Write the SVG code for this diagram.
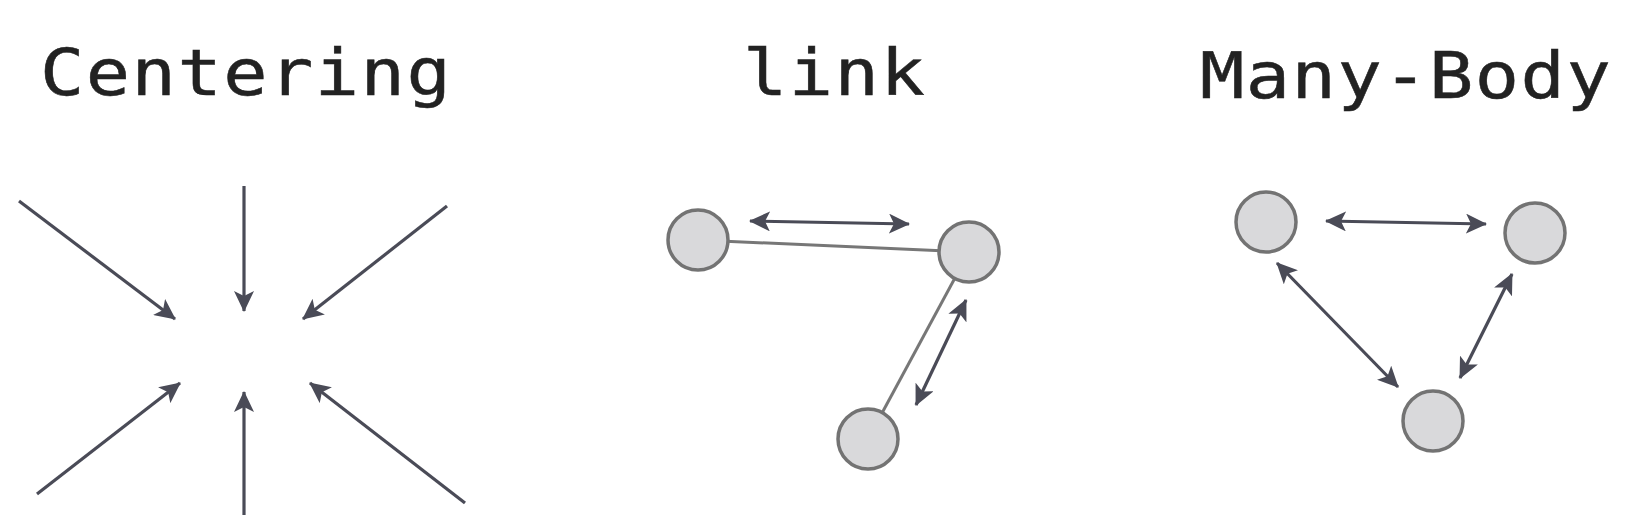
<svg xmlns="http://www.w3.org/2000/svg" width="1638" height="532" viewBox="0 0 1638 532">
<defs>
<style>
.title{font-family:"DejaVu Sans Mono","Liberation Mono",monospace;font-size:64px;fill:#222;stroke:#222;stroke-width:0.5px;letter-spacing:1.3px}
.arr{stroke:#4a4b57;stroke-width:3.2;fill:none;marker-end:url(#ah)}
.dbl{stroke:#4a4b57;stroke-width:3.2;fill:none;marker-start:url(#ahs);marker-end:url(#ah)}
.link{stroke:#777;stroke-width:3;fill:none}
.node{fill:#d9d9db;stroke:#737373;stroke-width:3.5}
</style>
<marker id="ah" markerUnits="userSpaceOnUse" markerWidth="22" markerHeight="20" refX="20" refY="10" orient="auto">
<path d="M0,0 L21,10 L0,20 L5,10 Z" fill="#4a4b57"/>
</marker>
<marker id="ahs" markerUnits="userSpaceOnUse" markerWidth="22" markerHeight="20" refX="2" refY="10" orient="auto">
<path d="M22,0 L1,10 L22,20 L17,10 Z" fill="#4a4b57"/>
</marker>
</defs>
<rect width="1638" height="532" fill="#fff"/>
<text class="title" transform="translate(40,95) scale(1.15,1)">Centering</text>
<text class="title" transform="translate(743,95) scale(1.15,1)">link</text>
<text class="title" transform="translate(1200,98) scale(1.15,1)">Many-Body</text>
<g id="connectors">
<line class="arr" x1="19" y1="201" x2="175" y2="319"/>
<line class="arr" x1="244" y1="186" x2="244" y2="311"/>
<line class="arr" x1="447" y1="206" x2="303" y2="319"/>
<line class="arr" x1="37" y1="494" x2="180" y2="383"/>
<line class="arr" x1="244" y1="515" x2="244" y2="392"/>
<line class="arr" x1="465" y1="503" x2="310" y2="383"/>
<line class="link" x1="698" y1="240" x2="969" y2="252"/>
<line class="link" x1="969" y1="252" x2="868" y2="439"/>
<line class="dbl" x1="750" y1="221" x2="909" y2="224"/>
<line class="dbl" x1="966" y1="300" x2="916" y2="405"/>
<line class="dbl" x1="1326" y1="221" x2="1486" y2="224"/>
<line class="dbl" x1="1277" y1="263" x2="1398" y2="387"/>
<line class="dbl" x1="1512" y1="274" x2="1460" y2="378"/>
</g>
<g id="link-a"><circle class="node" cx="698" cy="240" r="30"/></g>
<g id="link-b"><circle class="node" cx="969" cy="252" r="30"/></g>
<g id="link-c"><circle class="node" cx="868" cy="439" r="30"/></g>
<g id="body-a"><circle class="node" cx="1266" cy="222" r="30"/></g>
<g id="body-b"><circle class="node" cx="1535" cy="233" r="30"/></g>
<g id="body-c"><circle class="node" cx="1433" cy="421" r="30"/></g>
</svg>
